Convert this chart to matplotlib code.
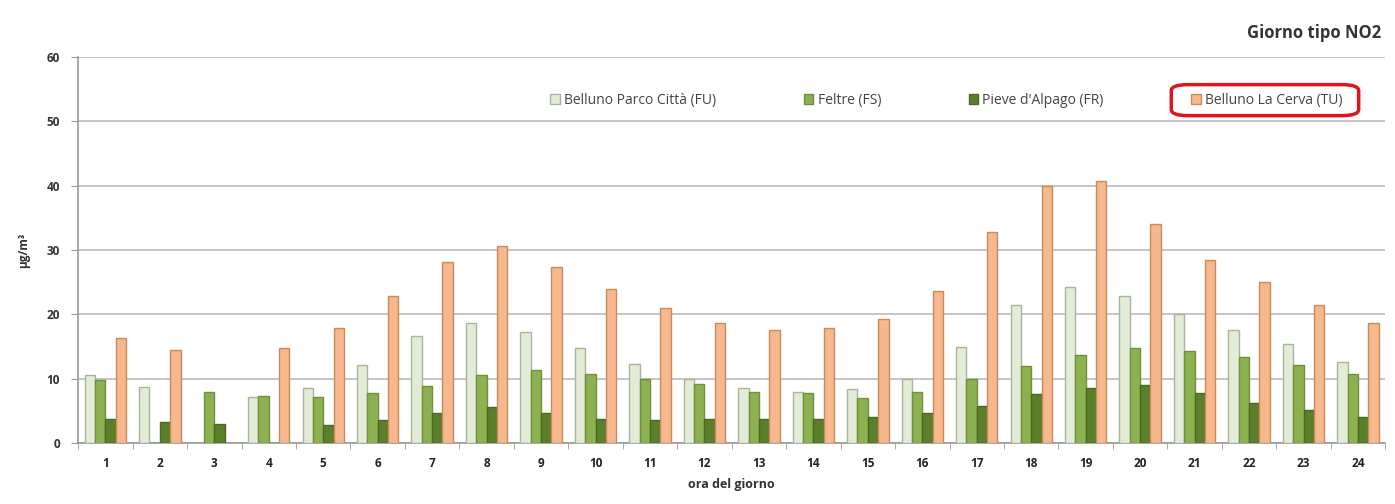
import matplotlib
matplotlib.use("Agg")
import matplotlib.pyplot as plt
import numpy as np
from matplotlib.patches import FancyBboxPatch

plt.rcParams['font.family'] = ['Open Sans', 'DejaVu Sans']

hours = [str(h) for h in range(1, 25)]
series_names = ["Belluno Parco Città (FU)", "Feltre (FS)", "Pieve d'Alpago (FR)", "Belluno La Cerva (TU)"]
fu = [10.5, 8.7, 0, 7.2, 8.5, 12.2, 16.6, 18.6, 17.3, 14.8, 12.3, 10.0,
      8.5, 8.0, 8.4, 10.0, 15.0, 21.4, 24.3, 22.9, 20.0, 17.6, 15.4, 12.6]
fs = [9.8, 0, 8.0, 7.3, 7.2, 7.8, 8.9, 10.5, 11.3, 10.7, 10.0, 9.2,
      8.0, 7.7, 7.0, 8.0, 10.0, 11.9, 13.7, 14.8, 14.3, 13.3, 12.1, 10.8]
fr = [3.8, 3.3, 3.0, 0, 2.8, 3.6, 4.7, 5.6, 4.7, 3.7, 3.6, 3.7,
      3.7, 3.7, 4.0, 4.7, 5.8, 7.6, 8.6, 9.0, 7.7, 6.2, 5.1, 4.1]
tu = [16.3, 14.5, 0, 14.8, 17.9, 22.9, 28.2, 30.6, 27.3, 23.9, 21.0, 18.7,
      17.6, 17.9, 19.3, 23.6, 32.8, 40.0, 40.7, 34.0, 28.4, 25.1, 21.5, 18.6]
yticks = [0, 10, 20, 30, 40, 50, 60]

series = [fu, fs, fr, tu]
faces = ["#e3ecd6", "#8cb150", "#5b7f2b", "#f6b88c"]
edges = ["#a9b59a", "#6f8f3c", "#4a6a22", "#c98a5c"]

fig = plt.figure(figsize=(13.95, 5.04), dpi=100)
ax = fig.add_axes([0.056, 0.121, 0.937, 0.766])

x = np.arange(len(hours))
w = 0.19
for i, (vals, fc, ec, name) in enumerate(zip(series, faces, edges, series_names)):
    ax.bar(x + (i - 1.5) * w, vals, width=w, color=fc, edgecolor=ec, linewidth=1.0,
           label=name, zorder=3)

ax.set_xlim(-0.5, len(hours) - 0.5)
ax.set_ylim(0, 60)
ax.set_yticks(yticks)
ax.set_yticklabels([str(t) for t in yticks], fontsize=8.5, fontweight='bold', color='#333333')
ax.set_xticks(x)
ax.set_xticklabels(hours, fontsize=8.5, fontweight='bold', color='#222222')
ax.set_xticks(np.arange(-0.5, len(hours)), minor=True)
ax.tick_params(axis='x', which='major', length=0, pad=10)
ax.tick_params(axis='x', which='minor', length=4, color='#999999')
ax.tick_params(axis='y', length=5, color='#999999', pad=8)
ax.yaxis.grid(True, color='#bbbbbb', linewidth=1.2, zorder=0)
ax.set_axisbelow(True)
for s in ['top', 'right']:
    ax.spines[s].set_visible(False)
for s in ['left', 'bottom']:
    ax.spines[s].set_color('#999999')
    ax.spines[s].set_linewidth(1.2)

ax.set_ylabel("µg/m³", fontsize=8.5, fontweight='bold', color='#333333', labelpad=12)
ax.set_xlabel("ora del giorno", fontsize=9, fontweight='bold', color='#333333', labelpad=6)

fig.text(0.990, 0.935, "Giorno tipo NO2", ha='right', va='center', fontsize=12,
         fontweight='bold', color='#333333')

leg = ax.legend(ncol=4, loc='upper right', bbox_to_anchor=(0.977, 0.94), frameon=False,
                fontsize=10, handlelength=0.7, handleheight=0.7, handletextpad=0.3,
                columnspacing=6.3)
for t in leg.get_texts():
    t.set_color('#444444')

fig.canvas.draw()
renderer = fig.canvas.get_renderer()
handle_bb = leg.legend_handles[-1].get_window_extent(renderer)
text_bb = leg.get_texts()[-1].get_window_extent(renderer)
x0 = handle_bb.x0 - 20
x1 = text_bb.x1 + 16
y0 = min(handle_bb.y0, text_bb.y0) - 8
y1 = max(handle_bb.y1, text_bb.y1) + 8
inv = fig.transFigure.inverted()
(fx0, fy0) = inv.transform((x0, y0))
(fx1, fy1) = inv.transform((x1, y1))
box = FancyBboxPatch((fx0, fy0), fx1 - fx0, fy1 - fy0,
                     boxstyle="round,pad=0,rounding_size=0.012",
                     transform=fig.transFigure, fill=False, edgecolor='#e0141b',
                     linewidth=2.5, zorder=10)
fig.patches.append(box)

fig.savefig("out.png", dpi=100)
